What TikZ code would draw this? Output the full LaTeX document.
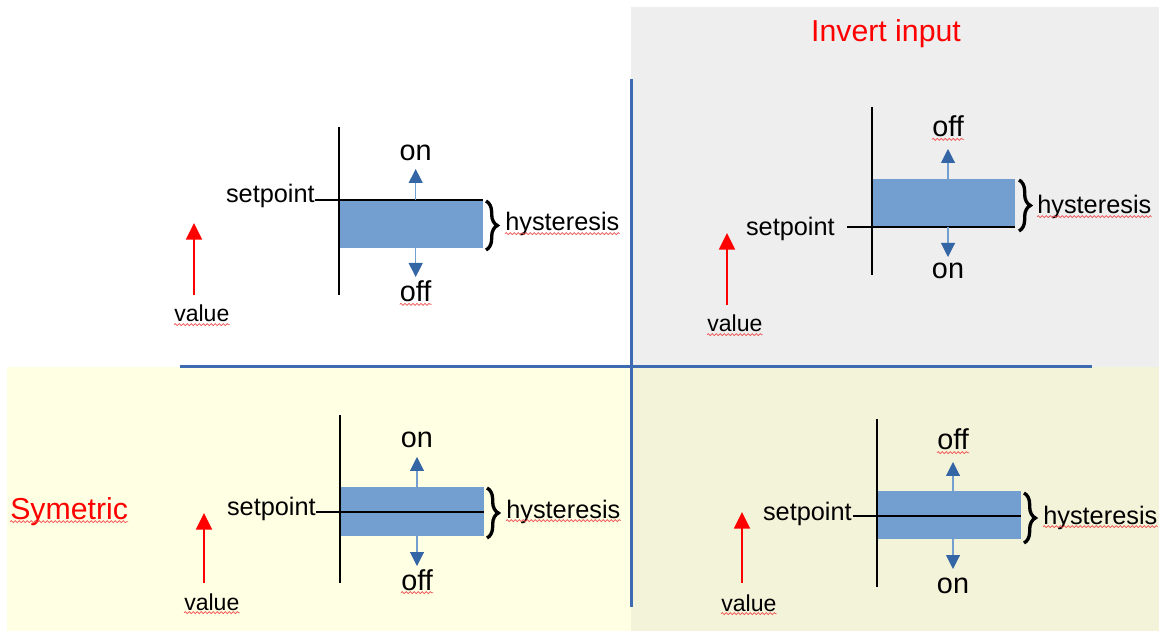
\documentclass[tikz,border=0pt]{standalone}
\usepackage{fontspec}
\setmainfont{Liberation Sans}
\usetikzlibrary{arrows.meta,decorations.pathreplacing,decorations.pathmorphing}
\definecolor{bggray}{HTML}{EEEEEE}
\definecolor{bgyellow}{HTML}{FFFFE3}
\definecolor{bgbeige}{HTML}{F3F3DA}
\definecolor{divblue}{HTML}{3D6AB3}
\definecolor{boxblue}{HTML}{729FCF}
\definecolor{arrowdark}{HTML}{3465A4}
\definecolor{titlered}{HTML}{FF0000}
\definecolor{spellred}{HTML}{F05050}
\tikzset{
  divider/.style={divblue, line width=2.25pt},
  axisline/.style={black, line width=1.1pt},
  spline/.style={black, line width=1.9pt},
  hbox/.style={fill=boxblue, draw=none},
  statearrow/.style={boxblue, line width=0.8pt, -{Triangle[width=10.5pt,length=10.5pt,color=arrowdark]}},
  valarrow/.style={red, line width=1.2pt, -{Triangle[width=12pt,length=12.5pt]}},
  hbrace/.style={decorate, decoration={brace, amplitude=8.5pt, aspect=0.5}, black, line width=2.5pt},
  lbl/.style={inner sep=0pt, font=\fontsize{19pt}{22pt}\selectfont},
  state/.style={inner sep=0pt, font=\fontsize{21.6pt}{25pt}\selectfont},
  vallbl/.style={inner sep=0pt, font=\fontsize{17.3pt}{20pt}\selectfont},
  title/.style={inner sep=0pt, text=titlered, font=\fontsize{22.7pt}{26pt}\selectfont},
  wavy/.style={spellred, line width=0.55pt, decorate, decoration={snake, amplitude=0.75pt, segment length=3pt}},
}
\newcommand{\spell}[1]{\draw[wavy] ([yshift=-2pt]#1.base west) -- ([yshift=-2pt]#1.base east);}
\begin{document}
\begin{tikzpicture}[x=0.75pt, y=-0.75pt]
\useasboundingbox (0,0) rectangle (1164,634);
% backgrounds
\fill[bggray] (631,7) rectangle (1159,367);
\fill[bgyellow] (7,367) rectangle (631,631);
\fill[bgbeige] (631,367) rectangle (1159,631);
% dividers
\coordinate (dvt) at (631,79);
\coordinate (dvb) at (631,607);
\coordinate (dhl) at (180,367);
\coordinate (dhr) at (1092,367);
\draw[divider] (dvt) -- (dvb);
\draw[divider] (dhl) -- (dhr);

% titles
\node[title, anchor=base] (tInv) at (886,42) {Invert input};
\node[title, anchor=base west] (tSym) at (10,519) {Symetric};
\spell{tSym}

% ================= top-left
\coordinate (tlVt) at (339,127); \coordinate (tlVb) at (339,295);
\fill[hbox] (339,200) rectangle (483,248);
\draw[axisline] (tlVt) -- (tlVb);
\node[lbl, anchor=base east] (tlSp) at (315,203) {setpoint};
\coordinate (tlSr) at (483,200);
\draw[spline] (tlSp.base east |- tlSr) -- (tlSr);
\coordinate (tlUa) at (415.7,200); \coordinate (tlUb) at (415.7,169);
\coordinate (tlDa) at (415.7,248); \coordinate (tlDb) at (415.7,277);
\draw[statearrow] (tlUa) -- (tlUb);
\draw[statearrow] (tlDa) -- (tlDb);
\node[state, anchor=base] (tlOn) at (415.7,160.7) {on};
\node[state, anchor=base] (tlOff) at (415.7,301.7) {off};
\spell{tlOff}
\coordinate (tlBa) at (486,201); \coordinate (tlBb) at (486,250);
\draw[hbrace] (tlBa) -- (tlBb);
\node[lbl, anchor=base west] (tlHy) at (505,231) {hysteresis};
\spell{tlHy}
\coordinate (tlRa) at (194,295); \coordinate (tlRb) at (194,223);
\draw[valarrow] (tlRa) -- (tlRb);
\node[vallbl, anchor=base west] (tlVal) at (174,322) {value};
\spell{tlVal}

% ================= top-right
\coordinate (trVt) at (872,107); \coordinate (trVb) at (872,275);
\fill[hbox] (872,179) rectangle (1015,227);
\draw[axisline] (trVt) -- (trVb);
\node[lbl, anchor=base east] (trSp) at (835,235.7) {setpoint};
\coordinate (trSl) at (847,227); \coordinate (trSr) at (1015,227);
\draw[spline] (trSl) -- (trSr);
\coordinate (trUa) at (948,179); \coordinate (trUb) at (948,149);
\coordinate (trDa) at (948,227); \coordinate (trDb) at (948,257);
\draw[statearrow] (trUa) -- (trUb);
\draw[statearrow] (trDa) -- (trDb);
\node[state, anchor=base] (trOff) at (948,136.7) {off};
\spell{trOff}
\node[state, anchor=base] (trOn) at (948,279) {on};
\coordinate (trBa) at (1019,180); \coordinate (trBb) at (1019,231);
\draw[hbrace] (trBa) -- (trBb);
\node[lbl, anchor=base west] (trHy) at (1037,214) {hysteresis};
\spell{trHy}
\coordinate (trRa) at (727,305); \coordinate (trRb) at (727,233);
\draw[valarrow] (trRa) -- (trRb);
\node[vallbl, anchor=base west] (trVal) at (707,332) {value};
\spell{trVal}

% ================= bottom-left
\coordinate (blVt) at (340,415); \coordinate (blVb) at (340,583);
\fill[hbox] (340,487) rectangle (484,536);
\draw[axisline] (blVt) -- (blVb);
\node[lbl, anchor=base east] (blSp) at (316,515) {setpoint};
\coordinate (blSl) at (316,512); \coordinate (blSr) at (484,512);
\draw[spline] (blSl) -- (blSr);
\coordinate (blUa) at (417,487); \coordinate (blUb) at (417,457);
\coordinate (blDa) at (417,536); \coordinate (blDb) at (417,566);
\draw[statearrow] (blUa) -- (blUb);
\draw[statearrow] (blDa) -- (blDb);
\node[state, anchor=base] (blOn) at (417,448) {on};
\node[state, anchor=base] (blOff) at (417,590) {off};
\spell{blOff}
\coordinate (blBa) at (487,488); \coordinate (blBb) at (487,538);
\draw[hbrace] (blBa) -- (blBb);
\node[lbl, anchor=base west] (blHy) at (506,518) {hysteresis};
\spell{blHy}
\coordinate (blRa) at (204,583); \coordinate (blRb) at (204,513);
\draw[valarrow] (blRa) -- (blRb);
\node[vallbl, anchor=base west] (blVal) at (184,610) {value};
\spell{blVal}

% ================= bottom-right
\coordinate (brVt) at (877,419); \coordinate (brVb) at (877,587);
\fill[hbox] (877,491) rectangle (1021,539);
\draw[axisline] (brVt) -- (brVb);
\node[lbl, anchor=base east] (brSp) at (852,520) {setpoint};
\coordinate (brSl) at (853,516); \coordinate (brSr) at (1021,516);
\draw[spline] (brSl) -- (brSr);
\coordinate (brUa) at (953,491); \coordinate (brUb) at (953,462);
\coordinate (brDa) at (953,539); \coordinate (brDb) at (953,569);
\draw[statearrow] (brUa) -- (brUb);
\draw[statearrow] (brDa) -- (brDb);
\node[state, anchor=base] (brOff) at (953,450) {off};
\spell{brOff}
\node[state, anchor=base] (brOn) at (953,593) {on};
\coordinate (brBa) at (1024,493); \coordinate (brBb) at (1024,543);
\draw[hbrace] (brBa) -- (brBb);
\node[lbl, anchor=base west] (brHy) at (1043,524) {hysteresis};
\spell{brHy}
\coordinate (brRa) at (742,583); \coordinate (brRb) at (742,512);
\draw[valarrow] (brRa) -- (brRb);
\node[vallbl, anchor=base west] (brVal) at (721,611) {value};
\spell{brVal}
\end{tikzpicture}
\end{document}
